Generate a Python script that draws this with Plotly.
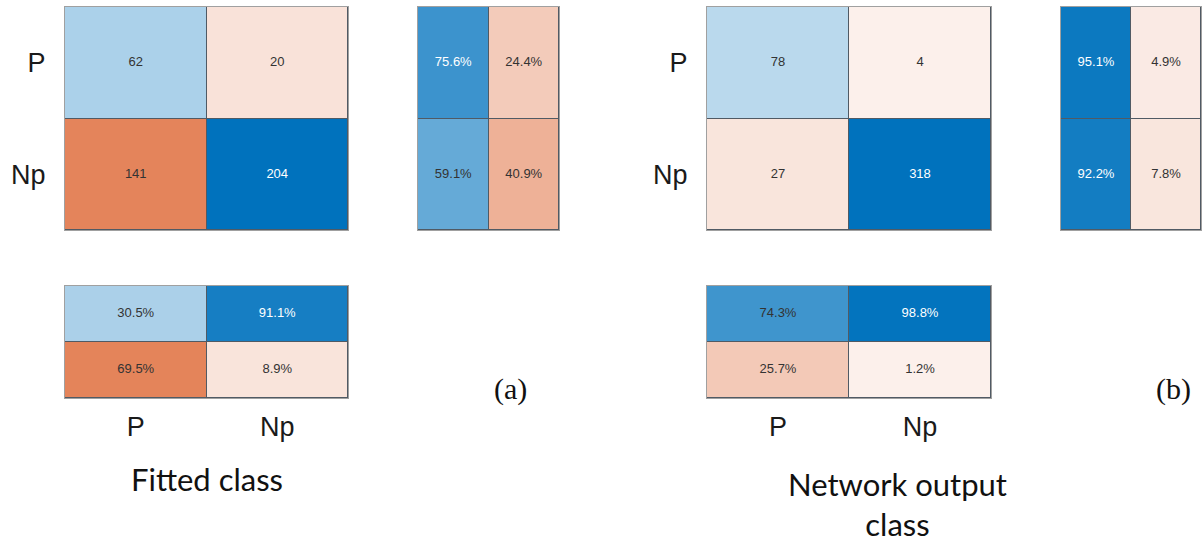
import plotly.graph_objects as go

# Class names and confusion counts (rows: true class, columns: predicted class)
classes = ["P", "Np"]
counts_a = [[62, 20], [141, 204]]
counts_b = [[78, 4], [27, 318]]
axis_titles = ["Fitted class", "Network output<br>class"]
panel_tags = ["(a)", "(b)"]

W, H = 1204, 544

# Diverging scale: off-diagonal orange (negative) -> white -> diagonal blue (positive);
# any non-zero share gets at least a faint tint
colorscale = [
    [0.0, "rgb(217,83,25)"],
    [0.4999, "rgb(252,242,238)"],
    [0.5, "rgb(255,255,255)"],
    [0.5001, "rgb(246,250,253)"],
    [1.0, "rgb(0,114,189)"],
]

# Pixel boxes (x0, x1, y0, y1) for each panel's blocks
layout_boxes = [
    dict(main=(65, 348, 7, 230), row=(418, 559, 7, 230), col=(65, 348, 286, 398),
         title_x=207, tag_x=510),
    dict(main=(707, 991, 7, 230), row=(1061, 1201, 7, 230), col=(707, 991, 286, 398),
         title_x=897, tag_x=1173),
]


def xdom(b):
    return [b[0] / W, b[1] / W]


def ydom(b):
    return [1 - b[3] / H, 1 - b[2] / H]


def txt_color(v):
    return "white" if v >= 0.75 else "#333333"


fig = go.Figure()
layout = dict(width=W, height=H, margin=dict(l=0, r=0, t=0, b=0),
              paper_bgcolor="white", plot_bgcolor="#505a64", showlegend=False,
              annotations=[])

ax_idx = 0


def add_block(z, xs, ys, texts, box, xcat, ycat, ytick=False, xtick=False):
    global ax_idx
    ax_idx += 1
    sfx = "" if ax_idx == 1 else str(ax_idx)
    xa, ya = "x" + sfx, "y" + sfx
    fig.add_trace(go.Heatmap(z=z, x=xs, y=ys, zmin=-1, zmax=1, colorscale=colorscale,
                             showscale=False, xgap=1, ygap=1, hoverinfo="skip",
                             xaxis=xa, yaxis=ya))
    px, py, pt, pc = [], [], [], []
    for i, yv in enumerate(ys):
        for j, xv in enumerate(xs):
            px.append(xv)
            py.append(yv)
            pt.append(texts[i][j])
            pc.append(txt_color(z[i][j]))
    fig.add_trace(go.Scatter(x=px, y=py, text=pt, mode="text",
                             textfont=dict(family="Liberation Sans, Arial", size=13, color=pc),
                             hoverinfo="skip", xaxis=xa, yaxis=ya))
    common = dict(showgrid=False, zeroline=False, ticks="", showline=True,
                  linecolor="#a0a0a0", linewidth=1, mirror=True, fixedrange=True)
    xaxis = dict(domain=xdom(box), anchor=ya, **common)
    yaxis = dict(domain=ydom(box), anchor=xa, autorange="reversed", **common)
    if xcat:
        xaxis.update(type="category", categoryorder="array", categoryarray=xs)
    if ycat:
        yaxis.update(type="category", categoryorder="array", categoryarray=ys)
    xaxis["showticklabels"] = xtick
    yaxis["showticklabels"] = ytick
    if xtick:
        xaxis.update(tickfont=dict(family="Liberation Sans, Arial", size=27, color="#1a1a1a"),
                     ticklabelstandoff=5)
    if ytick:
        yaxis.update(tickfont=dict(family="Liberation Sans, Arial", size=27, color="#1a1a1a"),
                     ticklabelstandoff=13)
    layout["xaxis" + sfx] = xaxis
    layout["yaxis" + sfx] = yaxis


for counts, title, tag, box in zip([counts_a, counts_b], axis_titles, panel_tags, layout_boxes):
    n = len(classes)
    cmax = max(max(r) for r in counts)
    # Main matrix: diagonal positive (blue), off-diagonal negative (orange)
    zm = [[(counts[i][j] / cmax) * (1 if i == j else -1) for j in range(n)] for i in range(n)]
    tm = [[str(counts[i][j]) for j in range(n)] for i in range(n)]
    add_block(zm, classes, classes, tm, box["main"], True, True, ytick=True)

    # Row summary: correct / incorrect share of each true class
    zr, tr = [], []
    for i in range(n):
        tot = sum(counts[i])
        c = counts[i][i] / tot
        zr.append([c, -(1 - c)])
        tr.append([f"{100 * c:.1f}%", f"{100 * (1 - c):.1f}%"])
    add_block(zr, [0, 1], classes, tr, box["row"], False, True)

    # Column summary: correct / incorrect share of each predicted class
    colc = []
    for j in range(n):
        tot = sum(counts[i][j] for i in range(n))
        colc.append(counts[j][j] / tot)
    zc = [colc, [-(1 - c) for c in colc]]
    tc = [[f"{100 * c:.1f}%" for c in colc], [f"{100 * (1 - c):.1f}%" for c in colc]]
    add_block(zc, classes, [0, 1], tc, box["col"], True, False, xtick=True)

    layout["annotations"].append(dict(
        text=title, x=box["title_x"] / W, y=1 - (479 if "<br>" not in title else 504) / H,
        xref="paper", yref="paper", showarrow=False, xanchor="center", yanchor="middle",
        font=dict(family="Lato, Open Sans", size=31, color="#111111")))
    layout["annotations"].append(dict(
        text=tag, x=box["tag_x"] / W, y=1 - 389 / H, xref="paper", yref="paper",
        showarrow=False, xanchor="center", yanchor="middle",
        font=dict(family="Liberation Serif, Times New Roman", size=30, color="#111111")))

fig.update_layout(**layout)
fig.write_html("out.html")
